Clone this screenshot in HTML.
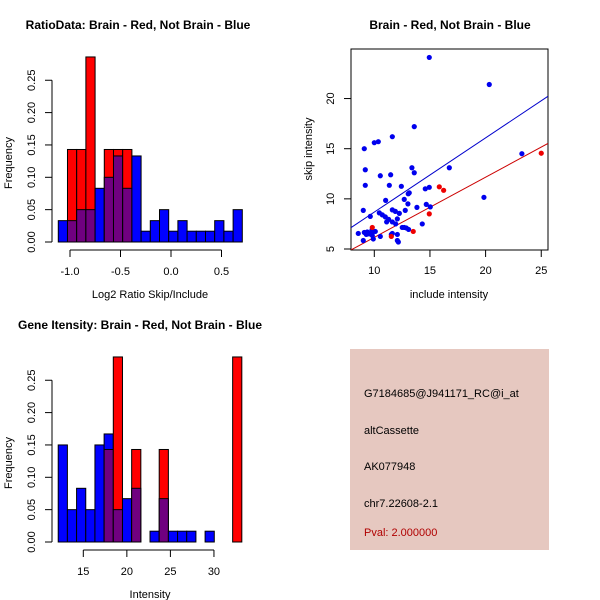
<!DOCTYPE html>
<html><head><meta charset="utf-8"><style>
body{margin:0;background:#fff}
svg{display:block;font-family:"Liberation Sans",sans-serif}
</style></head><body>
<svg id="c" width="600" height="600" xmlns="http://www.w3.org/2000/svg">
<rect width="600" height="600" fill="#fff"/>
<g id="p1"></g>
<g id="p2"></g>
<g id="p3"></g>
<g>
<rect x="350" y="349" width="199" height="201" fill="#e6c8c0"/>
<g font-size="11" fill="#000">
<text x="364" y="397">G7184685@J941171_RC@i_at</text>
<text x="364" y="434">altCassette</text>
<text x="364" y="470">AK077948</text>
<text x="364" y="507">chr7.22608-2.1</text>
<text x="364" y="536" fill="#b00000">Pval: 2.000000</text>
</g></g>
</svg>
<script>
// Histogram 1 data
const h1Start=-1.116, h1Width=0.0911;
const h1Blue=[0.033,0.033,0.05,0.05,0.083,0.1,0.133,0.083,0.133,0.0167,0.033,0.05,0.0167,0.033,0.0167,0.0167,0.0167,0.033,0.0167,0.05];
const h1Red=[0,0.143,0.143,0.286,0,0.143,0.143,0.143,0,0,0,0,0,0,0,0,0,0,0,0];
const h1XTicks=[-1.0,-0.5,0.0,0.5];
const h1XLabels=["-1.0","-0.5","0.0","0.5"];
const yTicks=[0,0.05,0.10,0.15,0.20,0.25];
const yLabels=["0.00","0.05","0.10","0.15","0.20","0.25"];
// Histogram 2 data
const h2Start=12.12, h2Width=1.054;
const h2Blue=[0.15,0.05,0.083,0.05,0.15,0.167,0.05,0.067,0.083,0,0.0167,0.067,0.0167,0.0167,0.0167,0,0.0167,0,0,0];
const h2Red=[0,0,0,0,0,0.143,0.286,0,0.143,0,0,0.143,0,0,0,0,0,0,0,0.286];
const h2XTicks=[15,20,25,30];
// Scatter data
const blueX=[14.94,20.33,23.26,19.85,13.59,11.62,10.0,10.36,9.1,16.74,9.19,13.38,13.59,10.54,11.47,9.19,11.35,12.43,13.14,13.05,14.94,14.58,11.02,12.69,13.02,13.83,9.01,11.62,11.89,12.25,12.78,9.64,10.45,10.72,10.99,11.29,11.11,11.62,12.07,14.67,15.03,11.92,14.31,12.51,12.69,12.87,13.08,8.56,9.1,9.37,9.55,9.73,9.91,10.09,9.82,9.28,10.54,11.53,11.62,12.07,9.01,9.91,12.07,12.16,9.79];
const blueY=[24.1,21.4,14.5,10.15,17.2,16.2,15.6,15.7,15.0,13.1,12.9,13.1,12.6,12.3,12.4,11.35,11.35,11.25,10.6,10.5,11.15,11.0,9.85,9.95,9.5,9.15,8.85,8.9,8.75,8.55,8.85,8.25,8.6,8.4,8.2,7.95,7.7,7.7,8.0,9.45,9.2,7.5,7.5,7.15,7.15,7.1,6.95,6.55,6.65,6.7,6.5,6.6,6.75,6.75,6.35,6.45,6.25,6.45,6.55,6.45,5.85,6.0,5.85,5.7,6.9];
const redX=[9.82,15.84,16.23,14.94,13.5,11.53,25.0];
const redY=[7.15,11.2,10.85,8.5,6.75,6.25,14.55];
const blueFit=[1.28,0.74];  // intercept, slope
const redFit=[0.16,0.60];
const sXTicks=[10,15,20,25];
const sYTicks=[5,10,15,20];

const NS="http://www.w3.org/2000/svg";
function mk(parent,tag,attrs){const e=document.createElementNS(NS,tag);for(const k in attrs)e.setAttribute(k,attrs[k]);parent.appendChild(e);return e;}

function hist(g,oy,start,width,blue,red,xs,xTicks,xLabels,title,xlab,titleX){
  const ys=v=>oy+242-v*647;
  const n=blue.length;
  for(let i=0;i<n;i++){
    const x0=xs(start+i*width),x1=xs(start+(i+1)*width);
    const b=blue[i],r=red[i];
    const order=b>=r?[[b,'#0000ff','blue'],[r,'#ff0000','red']]:[[r,'#ff0000','red'],[b,'#0000ff','blue']];
    const big=order[0],small=order[1];
    if(big[0]>0){const e=mk(g,'rect',{x:x0,y:ys(big[0]),width:x1-x0,height:ys(0)-ys(big[0]),fill:big[1],stroke:'#000','stroke-width':1});
      
      }
    const m=Math.min(b,r);
    if(m>0){const e=mk(g,'rect',{x:x0,y:ys(m),width:x1-x0,height:ys(0)-ys(m),fill:'#700080',stroke:'#000','stroke-width':1});
      
      }
  }
  // y axis
  const ya=mk(g,'line',{x1:52,x2:52,y1:ys(0),y2:ys(0.25),stroke:'#000'});
  
  
  yTicks.forEach((v,i)=>{mk(g,'line',{x1:45,x2:52,y1:ys(v),y2:ys(v),stroke:'#000'});
    const t=mk(g,'text',{x:0,y:0,transform:`translate(35,${ys(v)}) rotate(-90)`,'text-anchor':'middle','font-size':11});
    t.textContent=yLabels[i];
    
    });
  const xa=mk(g,'line',{x1:xs(xTicks[0]),x2:xs(xTicks[xTicks.length-1]),y1:oy+250,y2:oy+250,stroke:'#000'});
  
  
  xTicks.forEach((v,i)=>{mk(g,'line',{x1:xs(v),x2:xs(v),y1:oy+250,y2:oy+257,stroke:'#000'});
    const t=mk(g,'text',{x:xs(v),y:oy+275,'text-anchor':'middle','font-size':11});
    t.textContent=xLabels[i];
    
    });
  const yt=mk(g,'text',{transform:`translate(12,${oy+163}) rotate(-90)`,'text-anchor':'middle','font-size':11});
  yt.textContent='Frequency';
  
  
  const xt=mk(g,'text',{x:150,y:oy+298,'text-anchor':'middle','font-size':11});
  xt.textContent=xlab;
  
  
  const tt=mk(g,'text',{x:titleX,y:oy+29,'text-anchor':'middle','font-size':12,'font-weight':'bold'});
  tt.textContent=title;
  
  
}
hist(document.getElementById('p1'),0,h1Start,h1Width,h1Blue,h1Red,v=>70+(v+1)*101,h1XTicks,h1XLabels,'RatioData: Brain - Red, Not Brain - Blue','Log2 Ratio Skip/Include',138);
hist(document.getElementById('p3'),300,h2Start,h2Width,h2Blue,h2Red,v=>83.3+(v-15)*8.71,h2XTicks,h2XTicks.map(String),'Gene Itensity: Brain - Red, Not Brain - Blue','Intensity',140);

// scatter
(function(){
  const g=document.getElementById('p2');
  const sx=v=>374.3+(v-10)*11.13, sy=v=>249-(v-5)*10.03;
  const clip=mk(g,'clipPath',{id:'sc'});mk(clip,'rect',{x:351,y:49,width:197,height:201});
  const box=mk(g,'rect',{x:351,y:49,width:197,height:201,fill:'none',stroke:'#000'});
  
  
  const x0=7.9,x1=25.6;
  [[blueFit,'#0000cc','blue-fit-line'],[redFit,'#cc0000','red-fit-line']].forEach(f=>{
    const l=mk(g,'line',{x1:sx(x0),x2:sx(x1),y1:sy(f[0][0]+f[0][1]*x0),y2:sy(f[0][0]+f[0][1]*x1),stroke:f[1],'clip-path':'url(#sc)'});
    
    
  });
  blueX.forEach((v,i)=>{const c=mk(g,'circle',{cx:sx(v),cy:sy(blueY[i]),r:2.6,fill:'#0000ee'});
    
    });
  redX.forEach((v,i)=>{const c=mk(g,'circle',{cx:sx(v),cy:sy(redY[i]),r:2.6,fill:'#ee0000'});
    
    });
  sXTicks.forEach(v=>{mk(g,'line',{x1:sx(v),x2:sx(v),y1:250,y2:257,stroke:'#000'});
    const t=mk(g,'text',{x:sx(v),y:274,'text-anchor':'middle','font-size':11});t.textContent=v;
    
    });
  sYTicks.forEach(v=>{mk(g,'line',{x1:344,x2:351,y1:sy(v),y2:sy(v),stroke:'#000'});
    const t=mk(g,'text',{transform:`translate(334,${sy(v)}) rotate(-90)`,'text-anchor':'middle','font-size':11});t.textContent=v;
    
    });
  const xt=mk(g,'text',{x:449,y:298,'text-anchor':'middle','font-size':11});xt.textContent='include intensity';
  
  
  const yt=mk(g,'text',{transform:'translate(312,149) rotate(-90)','text-anchor':'middle','font-size':11});yt.textContent='skip intensity';
  
  
  const tt=mk(g,'text',{x:450,y:29,'text-anchor':'middle','font-size':12,'font-weight':'bold'});tt.textContent='Brain - Red, Not Brain - Blue';
  
  
})();
</script>
</body></html>
